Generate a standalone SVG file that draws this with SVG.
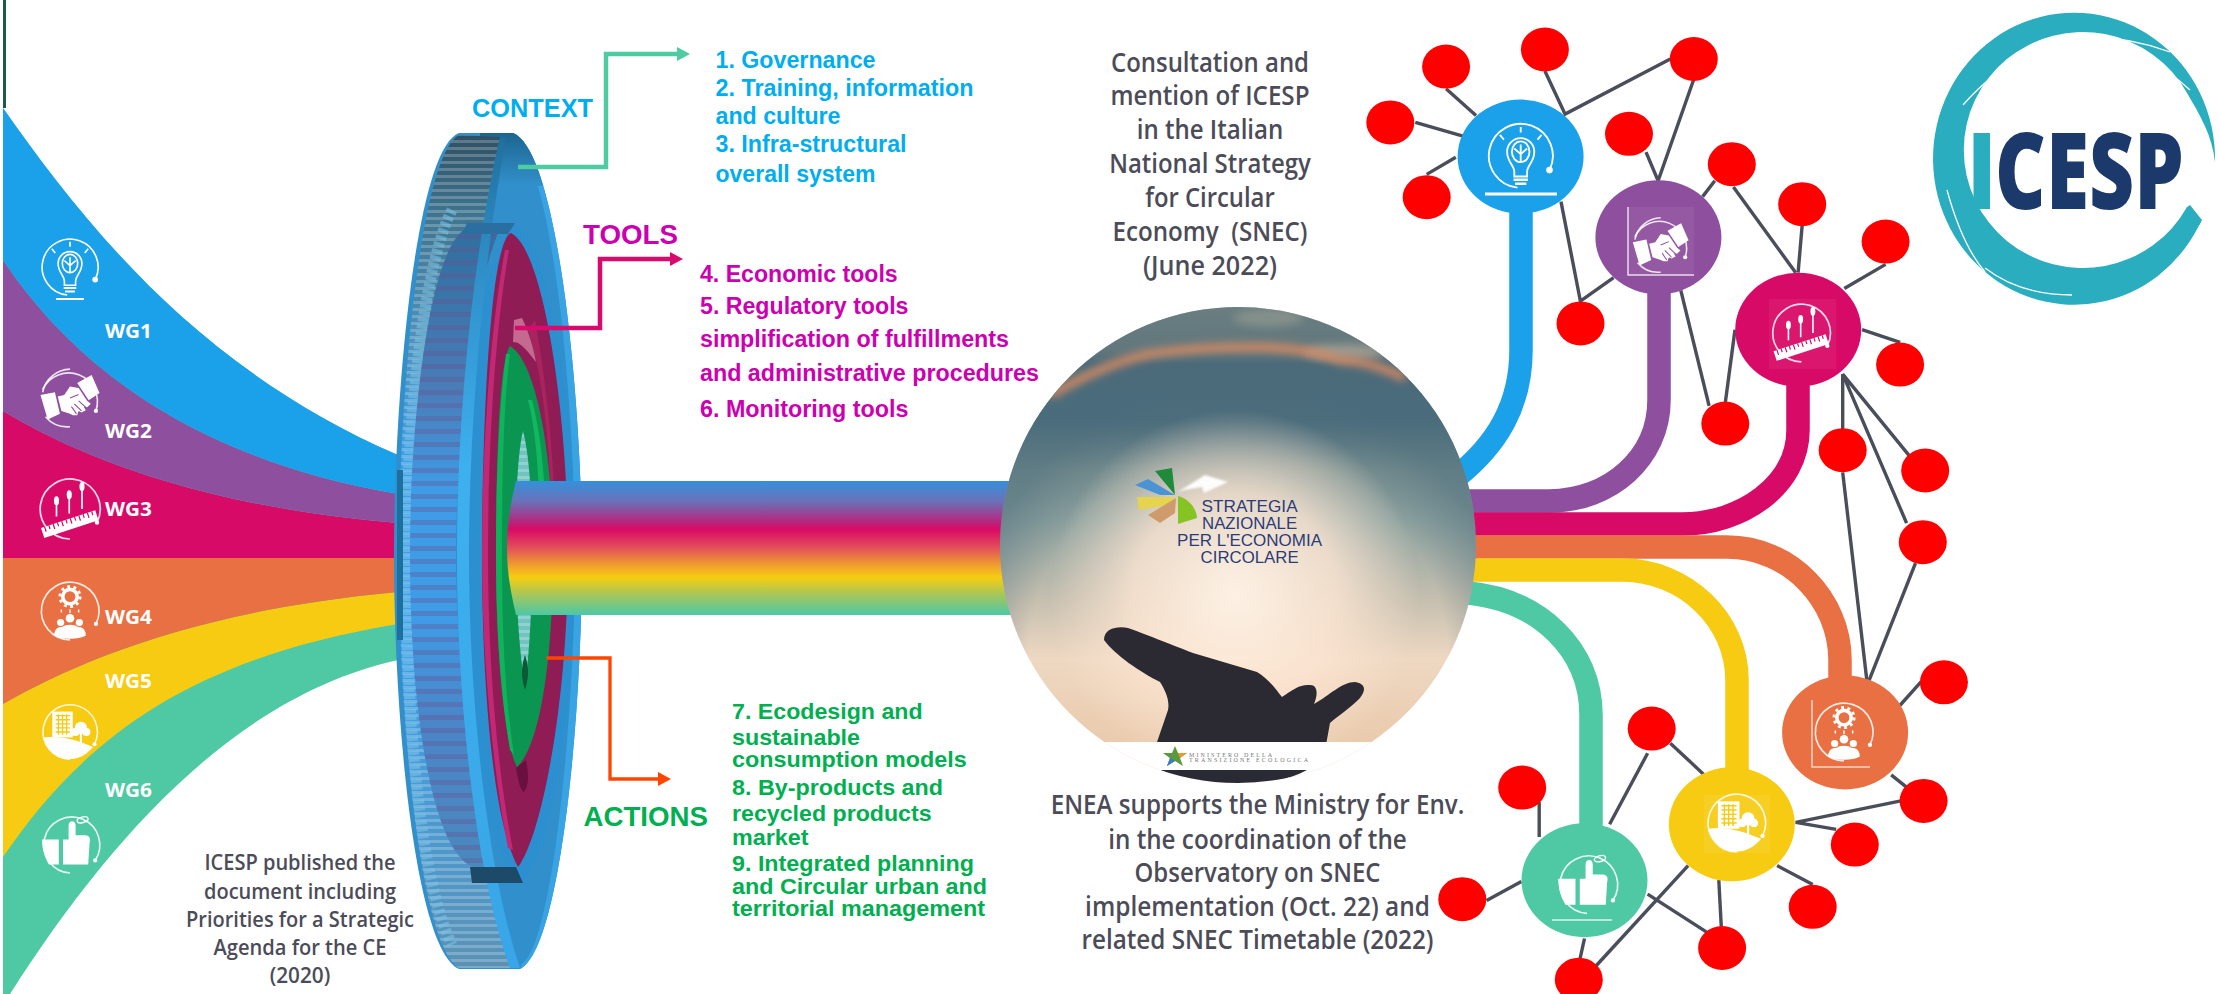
<svg xmlns="http://www.w3.org/2000/svg" width="2219" height="994" viewBox="0 0 2219 994">
<style>
.b{font-family:"Liberation Sans",Arial,sans-serif;font-weight:700}
.o{font-family:"Open Sans","Noto Sans",sans-serif;font-weight:600;fill:#4b4c58;text-anchor:middle}
.wg{font-family:"Open Sans","Noto Sans",sans-serif;font-weight:700;fill:#fff;font-size:20px}
.cb{fill:#00aeef;font-size:23px}.ct{fill:#cc00b0;font-size:23px}.cg{fill:#00b050;font-size:22.5px}
.thin{stroke:#4a4e5b;stroke-width:3.4;fill:none}
.thick{fill:none;stroke-width:23.500}
.dot{fill:#f00}
.lg{font-family:"Liberation Sans",Arial,sans-serif;fill:#2b3c78;font-size:16.5px;text-anchor:middle}
.big{font-family:"Open Sans","Noto Sans",sans-serif;font-weight:800;font-size:106px}
</style>
<defs>
<marker id="ag" markerUnits="userSpaceOnUse" markerWidth="14" markerHeight="14" refX="1" refY="7" orient="auto"><path d="M0 0L13 7L0 14Z" fill="#4ecba0"/></marker>
<marker id="ac" markerUnits="userSpaceOnUse" markerWidth="14" markerHeight="14" refX="1" refY="7" orient="auto"><path d="M0 0L13 7L0 14Z" fill="#d90a6e"/></marker>
<marker id="ao" markerUnits="userSpaceOnUse" markerWidth="14" markerHeight="14" refX="1" refY="7" orient="auto"><path d="M0 0L13 7L0 14Z" fill="#ff4500"/></marker>
<linearGradient id="rain" x1="0" y1="0" x2="0" y2="1"><stop offset="0" stop-color="#3590dc"/><stop offset=".15" stop-color="#6a72b8"/><stop offset=".3" stop-color="#b4287f"/><stop offset=".36" stop-color="#d90a66"/><stop offset=".5" stop-color="#e2505a"/><stop offset=".62" stop-color="#ef9a30"/><stop offset=".72" stop-color="#f6cd12"/><stop offset=".85" stop-color="#a5c65c"/><stop offset="1" stop-color="#4cc8a6"/></linearGradient>
<linearGradient id="rib" x1="0" y1="133" x2="0" y2="970" gradientUnits="userSpaceOnUse"><stop offset="0" stop-color="#2f4f63"/><stop offset=".1" stop-color="#3f7590"/><stop offset=".25" stop-color="#4f93bd"/><stop offset=".4" stop-color="#3b9fe8"/><stop offset=".6" stop-color="#3b9fe8"/><stop offset=".8" stop-color="#4a9ad4"/><stop offset="1" stop-color="#5a92b5"/></linearGradient>
<linearGradient id="step" x1="0" y1="228" x2="0" y2="882" gradientUnits="userSpaceOnUse"><stop offset="0" stop-color="#2f6f9e"/><stop offset=".25" stop-color="#4a7db8"/><stop offset=".4" stop-color="#3f9ce6"/><stop offset=".6" stop-color="#3f9ce6"/><stop offset=".75" stop-color="#4a86c8"/><stop offset="1" stop-color="#4a88bd"/></linearGradient>
<linearGradient id="strip" x1="0" y1="134" x2="0" y2="968" gradientUnits="userSpaceOnUse"><stop offset="0" stop-color="#1f6f9c"/><stop offset=".15" stop-color="#2f8dc6"/><stop offset=".4" stop-color="#3db0ee"/><stop offset="1" stop-color="#38a6e8"/></linearGradient>
<linearGradient id="rimtop" x1="0" y1="133" x2="0" y2="185" gradientUnits="userSpaceOnUse"><stop offset="0" stop-color="#1d6590"/><stop offset="1" stop-color="#3190cb"/></linearGradient>
<linearGradient id="sky" x1="0" y1="307" x2="0" y2="783" gradientUnits="userSpaceOnUse"><stop offset="0" stop-color="#8e9488"/><stop offset=".09" stop-color="#7d8580"/><stop offset=".12" stop-color="#4f6b7a"/><stop offset=".24" stop-color="#4f6f7d"/><stop offset=".34" stop-color="#7a9090"/><stop offset=".45" stop-color="#8fa3a0"/><stop offset=".62" stop-color="#c7c0b0"/><stop offset=".74" stop-color="#eed8c2"/><stop offset="1" stop-color="#e8c4a2"/></linearGradient>
<radialGradient id="vig" cx="1238" cy="660" r="300" gradientUnits="userSpaceOnUse"><stop offset=".7" stop-color="#46697a" stop-opacity="0"/><stop offset=".92" stop-color="#46697a" stop-opacity=".5"/></radialGradient>
<radialGradient id="glow" cx="1235" cy="595" r="185" gradientUnits="userSpaceOnUse"><stop offset="0" stop-color="#fff3e6" stop-opacity=".97"/><stop offset=".55" stop-color="#fde6d3" stop-opacity=".8"/><stop offset="1" stop-color="#fde6d3" stop-opacity="0"/></radialGradient>
<pattern id="ribs" patternUnits="userSpaceOnUse" width="10" height="7"><rect width="10" height="3" fill="#fff" opacity=".22"/></pattern>
<pattern id="ribd" patternUnits="userSpaceOnUse" width="10" height="13"><rect width="10" height="5" fill="#6a4f90" opacity=".35"/></pattern>
<filter id="bl" x="-20%" y="-100%" width="140%" height="300%"><feGaussianBlur stdDeviation="4"/></filter>
<filter id="bl2" x="-20%" y="-20%" width="140%" height="140%"><feGaussianBlur stdDeviation="1.2"/></filter>
<clipPath id="cc"><circle cx="1238" cy="545" r="238"/></clipPath>
<clipPath id="disc-clip"><path d="M459 133C415 150 394 400 394 555C394 720 415 950 459 969H520C560 950 582 720 582 555C582 400 558 150 513 133Z"/></clipPath>
<g id="ic-bulb" fill="none" stroke="#fff" stroke-width="2.3"><path d="M86 68A40 40 0 1 0 46 90"/><circle cx="86" cy="68" r="3" fill="#fff"/><path d="M42 76V70C42 62 33 58 33 45A17 17 0 0 1 67 45C67 58 58 62 58 70V76Z"/><ellipse cx="50" cy="45" rx="11" ry="13"/><path d="M50 58V36M50 48L42 41M50 48L58 41"/><path d="M41 80H59M43 85H57" stroke-width="3"/><path d="M50 14V21M24 24L29 30M76 24L71 30"/></g>
<g id="ic-hand"><path d="M86 68A40 40 0 0 0 12 38M16 76A40 40 0 0 0 50 90" fill="none" stroke="#fff" stroke-width="2.3" opacity=".85"/><path d="M50 10A40 40 0 0 0 12 42" fill="none" stroke="#fff" stroke-width="2.3" opacity=".85"/><circle cx="86" cy="68" r="3" fill="#fff"/><path d="M9 46L29 42L36 72L19 80Z" fill="#fff"/><path d="M60 29L80 18L91 43L76 53Z" fill="#fff"/><path d="M33 48L42 46L50 34L62 36L74 54L79 58L74 63L69 62L72 67L66 70L62 68L60 74L54 74L50 72L38 68Z" fill="#fff"/><path d="M50 50L62 45M56 58L66 68M52 62L59 72M62 54L72 63" stroke="#8f4f9f" stroke-width="1.5" fill="none"/></g>
<g id="ic-rule"><path d="M86 68A40 40 0 1 0 50 90" fill="none" stroke="#fff" stroke-width="2.3" opacity=".85"/><circle cx="86" cy="68" r="3" fill="#fff"/><g transform="rotate(-18 50 68)"><rect x="11" y="63" width="76" height="14" fill="#fff"/><path d="M16 63V70M22 63V68M28 63V70M34 63V68M40 63V70M46 63V68M52 63V70M58 63V68M64 63V70M70 63V68M76 63V70M82 63V68" stroke="#c80a62" stroke-width="1.6"/></g><path d="M32 60V42M49 56V34M66 50V24" stroke="#fff" stroke-width="2.2"/><ellipse cx="32" cy="39" rx="3.4" ry="6" fill="#fff"/><ellipse cx="49" cy="31" rx="3.4" ry="6" fill="#fff"/><ellipse cx="66" cy="20" rx="3.4" ry="6" fill="#fff"/></g>
<g id="ic-gear"><path d="M86 68A40 40 0 1 0 50 90" fill="none" stroke="#fff" stroke-width="2.3" opacity=".85"/><circle cx="86" cy="68" r="3" fill="#fff"/><circle cx="50" cy="30" r="10" fill="none" stroke="#fff" stroke-width="5"/><circle cx="50" cy="30" r="14" fill="none" stroke="#fff" stroke-width="4" stroke-dasharray="4 4.8"/><path d="M38 48V52M50 48V53M62 48V52" stroke="#fff" stroke-width="2"/><circle cx="50" cy="60" r="6" fill="#fff"/><circle cx="37" cy="66" r="5" fill="#fff"/><circle cx="63" cy="66" r="5" fill="#fff"/><path d="M28 84C28 72 38 72 40 72C42 68 58 68 60 72C62 72 72 72 72 84C62 90 38 90 28 84Z" fill="#fff"/></g>
<g id="ic-build"><path d="M86 68A40 40 0 1 0 50 90" fill="none" stroke="#fff" stroke-width="2.3" opacity=".85"/><circle cx="86" cy="68" r="3" fill="#fff"/><rect x="24" y="20" width="30" height="38" fill="#fff"/><path d="M29 26H50M29 32H50M29 38H50M29 44H50M29 50H50M33 24V54M39 24V54M45 24V54" stroke="#f7cb12" stroke-width="2"/><path d="M11 58C40 55 60 62 84 72C74 84 62 90 48 90C30 90 16 76 11 58Z" fill="#fff"/><circle cx="66" cy="44" r="9" fill="#fff"/><circle cx="58" cy="50" r="6" fill="#fff"/><circle cx="74" cy="50" r="6" fill="#fff"/><path d="M66 50V68" stroke="#fff" stroke-width="3"/></g>
<g id="ic-thumb"><path d="M86 72A40 40 0 1 0 50 90" fill="none" stroke="#fff" stroke-width="2.3" opacity=".85"/><circle cx="86" cy="72" r="3" fill="#fff"/><path d="M10 42H34V78H20C14 68 10 55 10 42Z" fill="#fff"/><path d="M40 42H48V22C48 14 58 14 58 22V36H72C78 36 80 42 78 46L76 78H40Z" fill="#fff"/><ellipse cx="68" cy="14" rx="8" ry="4" fill="none" stroke="#fff" stroke-width="2" transform="rotate(-15 68 14)"/></g>
</defs>
<rect width="2219" height="994" fill="#fff"/>
<rect x="3" y="0" width="3" height="108" fill="#1e5a46"/>

<g id="bands">
<path d="M3 108C85 225 200 370 398 455V660C240 695 115 830 10 994H3Z" fill="#4fc9a4"/>
<path d="M3 704C80 660 200 610 398 592V624C180 660 80 745 3 857Z" fill="#f7cb12"/>
<path d="M3 558H398V592C200 610 80 660 3 704Z" fill="#e97043"/>
<path d="M3 411C60 445 180 505 398 523V558H3Z" fill="#d80a68"/>
<path d="M3 260C60 345 170 455 398 494V523C180 505 60 445 3 411Z" fill="#8f4f9f"/>
<path d="M3 108C85 225 200 370 398 455V494C170 455 60 345 3 260Z" fill="#1ba1e9"/>
</g>
<g id="wg-icons">
<use href="#ic-bulb" transform="translate(35 232) scale(.7)"/>
<path d="M56 299H84" stroke="#fff" stroke-width="2"/>
<use href="#ic-hand" transform="translate(34 362) scale(.72)"/>
<use href="#ic-rule" transform="translate(32.500 471.500) scale(.75)"/>
<use href="#ic-gear" transform="translate(34 575) scale(.72)"/>
<use href="#ic-build" transform="translate(36 698) scale(.68)"/>
<use href="#ic-thumb" transform="translate(35 810) scale(.7)"/>
</g>
<g id="wg-labels">
<text class="wg" x="105" y="338" textLength="47" lengthAdjust="spacingAndGlyphs">WG1</text>
<text class="wg" x="105" y="437.500" textLength="47" lengthAdjust="spacingAndGlyphs">WG2</text>
<text class="wg" x="105" y="516" textLength="47" lengthAdjust="spacingAndGlyphs">WG3</text>
<text class="wg" x="105" y="624" textLength="47" lengthAdjust="spacingAndGlyphs">WG4</text>
<text class="wg" x="105" y="688" textLength="47" lengthAdjust="spacingAndGlyphs">WG5</text>
<text class="wg" x="105" y="797" textLength="47" lengthAdjust="spacingAndGlyphs">WG6</text>
</g>

<g id="disc">
<path d="M459 133C415 150 394 400 394 555C394 720 415 950 459 969H520C560 950 582 720 582 555C582 400 558 150 513 133Z" fill="#3190cb"/>
<path d="M513 133C558 150 582 400 582 555C582 720 560 950 520 969L522 964C552 945 575 720 575 555C575 400 552 160 513 137Z" fill="#38a4e4"/>
<rect x="480" y="130" width="90" height="56" fill="url(#rimtop)" clip-path="url(#disc-clip)"/>
<path d="M459 135C420 155 399 400 399 555C399 720 420 945 459 968H512C475 870 457 700 457 555C457 430 470 270 500 137Z" fill="url(#rib)"/>
<path d="M459 135C420 155 399 400 399 555C399 720 420 945 459 968H512C475 870 457 700 457 555C457 430 470 270 500 137Z" fill="url(#ribs)"/>
<path d="M452 210C425 260 406 420 406 555C406 720 420 880 452 945" fill="none" stroke="#7cc4e8" stroke-width="11" stroke-dasharray="4 3" opacity=".55"/>
<path d="M468 228C430 240 410 420 410 555C410 700 430 850 473 867H487C470 790 458 690 458 555C458 420 470 300 500 228Z" fill="url(#step)"/>
<path d="M468 228C430 240 410 420 410 555C410 700 430 850 473 867H487C470 790 458 690 458 555C458 420 470 300 500 228Z" fill="url(#ribd)"/>
<path d="M397 470H403V640H397Z" fill="#1d6f9e"/>
<path d="M516 225C484 240 456 420 456 555C456 700 484 850 520 882C552 860 575 700 575 555C575 420 552 250 516 225Z" fill="#2c8fd0"/>
<path d="M500 137C470 270 457 430 457 555C457 700 475 870 510 968L520 968C487 870 469 700 469 555C469 430 482 270 506 138Z" fill="url(#strip)"/>
<path d="M467 223H515L508 234H462Z" fill="#2a6f9f"/>
<path d="M470 867H516L523 883H472Z" fill="#1d4a68"/>
<path d="M511 233C490 240 482 430 482 555C482 680 492 820 518 867C542 835 568 700 568 555C568 420 545 250 511 233Z" fill="#8f1c55"/>
<path d="M482 555C482 450 490 330 505 250L509 250C495 330 488 450 488 555C488 660 497 770 513 850L508 848C493 770 482 660 482 555Z" fill="#c22873"/>
<path d="M535 320C548 390 556 480 556 555L553 555C552 470 545 380 528 330Z" fill="#a8245f"/>
<path d="M516 768C518 780 520 790 524 792C529 785 529 775 526 760Z" fill="#6a1040"/>
<path d="M514 320L522 318C530 335 534 350 536 362L528 352C522 345 518 342 513 342Z" fill="#c46a90"/>
<path d="M510 346C500 360 496 450 496 555C496 660 505 745 517 767C540 745 553 660 553 555C553 450 535 360 510 346Z" fill="#0a9650"/>
<path d="M496 555C496 470 500 400 506 354L510 354C504 400 502 470 502 555C502 640 506 700 514 755L510 750C502 700 496 640 496 555Z" fill="#0fb35c"/>
<path d="M532 400C542 440 546 480 546 555L539 555C540 490 538 440 528 400Z" fill="#12b860"/>
<path d="M523 431C513 470 513 620 525 685C534 620 536 480 523 431Z" fill="#72c4c2"/>
<path d="M523 431C513 470 513 620 525 685C534 620 536 480 523 431Z" fill="url(#ribs)"/>
<path d="M525 655C520 670 522 680 525 690C528 680 530 670 525 655Z" fill="#0b5a36"/>
</g>
<path id="pipe" d="M516 481H1030V615H516C510 590 507 570 507 548C507 525 510 505 516 481Z" fill="url(#rain)"/>

<g id="connectors">
<path class="thick" stroke="#1ba1e9" d="M1521 200V350C1521 405 1497 445 1455 478"/>
<path class="thick" stroke="#8f4f9f" d="M1659 280V400C1659 458 1610 501 1549 501H1460"/>
<path class="thick" stroke="#d80a68" d="M1798 370V430C1798 485 1742 524 1682 524H1465"/>
<path class="thick" stroke="#e97043" d="M1465 547H1727C1790 547 1840 600 1840 660V720"/>
<path class="thick" stroke="#f7cb12" d="M1465 570H1622C1685 570 1737 620 1737 680V790"/>
<path class="thick" stroke="#4fc9a4" d="M1468 593C1540 600 1591 650 1591 715V850"/>
<g id="spokes" class="thin">
<path d="M1446.100 88.800L1476 115.400"/><path d="M1544.900 71L1565.100 114.100L1670.300 59"/><path d="M1415.300 122.400L1463.900 136.300"/><path d="M1426.700 174.400L1455.800 157.300"/><path d="M1693.800 79.300L1658.100 180.700L1646 152.200"/><path d="M1561 201.600L1580.400 301.200L1613.600 277.700"/><path d="M1714.800 180.700L1702.600 196.600"/><path d="M1733.400 187L1795.700 272.700"/><path d="M1802.200 225L1798.100 272.700"/><path d="M1885.600 264.400L1844.300 288.500"/><path d="M1862 329.700L1900.100 342.400"/><path d="M1680.800 290.400L1709.100 405.800"/><path d="M1725.300 402.700L1735 329.700"/><path d="M1842.700 374.100V431.200"/><path d="M1842.700 472.400L1867 681.700"/><path d="M1909 455.300L1842.700 374.100L1906.600 523.100"/><path d="M1915.500 563.100L1868.600 681.700"/><path d="M1898.500 707L1921.200 681.700"/><path d="M1891.200 774.900L1923.600 800.900"/><path d="M1900.900 800.900L1795.700 822.400L1836.200 829.400"/><path d="M1777.100 865.600L1812.700 884.600"/><path d="M1718.800 880.100L1721.300 927.100"/><path d="M1688.100 865.600L1595 967"/><path d="M1647.600 894.100L1706.700 932.100"/><path d="M1584.500 938.500L1579.600 960.700"/><path d="M1521.400 881.400L1486.600 900.400"/><path d="M1539.200 802.100V837"/><path d="M1647.600 753.300L1609.600 824.300"/><path d="M1670.300 743.200L1704.300 774.900"/>
</g>
<path d="M518 167H606V54H678" fill="none" stroke="#4ecba0" stroke-width="4.500" marker-end="url(#ag)"/>
<path d="M515 328H600V259H671" fill="none" stroke="#d90a6e" stroke-width="4.500" marker-end="url(#ac)"/>
<path d="M546.500 658H610V779H659" fill="none" stroke="#ff4500" stroke-width="3.300" marker-end="url(#ao)"/>
</g>

<g id="sphere">
<g clip-path="url(#cc)">
<rect x="998" y="305" width="480" height="480" fill="url(#sky)"/>
<rect x="998" y="305" width="480" height="480" fill="url(#vig)"/>
<rect x="998" y="305" width="480" height="480" fill="url(#glow)"/>
<ellipse cx="1268" cy="318" rx="35" ry="9" fill="#a8a898" opacity=".45" filter="url(#bl)"/>
<ellipse cx="1345" cy="352" rx="42" ry="8" fill="#c8b8a0" opacity=".55" filter="url(#bl)"/>
<path d="M1050 395C1090 372 1120 360 1150 354C1190 348 1225 347 1257 347C1290 348 1315 351 1340 360C1365 361 1385 368 1405 378" fill="none" stroke="#d88a62" stroke-width="8" filter="url(#bl)"/>
<path d="M1104 640C1104 628 1118 626 1128 628C1150 636 1193 653 1193 653L1257 672C1270 680 1276 690 1282 697C1292 690 1300 684 1310 685C1318 685 1318 695 1314 704C1330 695 1342 682 1355 682C1366 684 1366 690 1360 698C1350 708 1338 716 1330 723L1326 745H1156L1168 710C1170 700 1165 690 1160 682C1140 672 1115 655 1104 640Z" fill="#2b2a33"/>
<rect x="998" y="742" width="480" height="48" fill="#fff"/>
<path d="M1160 770H1307C1270 790 1200 790 1160 770Z" fill="#2a2a35"/>
</g>
<g id="snec-logo">
<path d="M1155 471L1172 468L1175 495Z" fill="#1f8a3c"/>
<path d="M1135 485L1148 479L1175 495L1160 495Z" fill="#4a94d6"/>
<path d="M1137 497H1175L1168 505L1139 510Z" fill="#e6d34e"/>
<path d="M1148 515L1176 498L1175 513L1160 523Z" fill="#cf9b6d"/>
<path d="M1178 496C1192 500 1197 512 1197 518L1178 524Z" fill="#86c424"/>
<path d="M1178 492L1205 475L1228 482L1204 493L1202 487L1185 490Z" fill="#fdfdfb" filter="url(#bl2)"/>
<text class="lg" x="1249.600" y="511.500" textLength="96" lengthAdjust="spacingAndGlyphs">STRATEGIA</text>
<text class="lg" x="1249.600" y="528.700" textLength="95" lengthAdjust="spacingAndGlyphs">NAZIONALE</text>
<text class="lg" x="1249.600" y="545.700" textLength="145" lengthAdjust="spacingAndGlyphs">PER L'ECONOMIA</text>
<text class="lg" x="1249.600" y="563.300" textLength="98" lengthAdjust="spacingAndGlyphs">CIRCOLARE</text>
</g>
<g id="mite-logo">
<path d="M1175 746L1178 753L1187 753L1180 758L1183 766L1175 761L1167 766L1170 758L1163 753L1172 753Z" fill="#5a9a3c"/>
<path d="M1175 746L1178 753L1187 753L1180 758Z" fill="#e89a30"/>
<path d="M1175 761L1167 766L1170 758L1163 753Z" fill="#3a7ac8"/>
<text x="1189" y="756.500" font-family="Liberation Serif,serif" font-size="6" fill="#777" textLength="83">MINISTERO DELLA</text>
<text x="1189" y="761.500" font-family="Liberation Serif,serif" font-size="6" fill="#777" textLength="119">TRANSIZIONE ECOLOGICA</text>
</g>
</g>

<g id="nodes">
<g id="n1"><ellipse cx="1520.600" cy="156.600" rx="63" ry="57" fill="#1ba1e9"/><use href="#ic-bulb" transform="translate(1480.700 115.700) scale(.8)"/><path d="M1485 194H1557" stroke="#fff" stroke-width="3"/></g>
<g id="n2"><ellipse cx="1658.400" cy="237.300" rx="63" ry="57" fill="#8f4f9f"/><rect x="1628" y="207" width="66" height="68" fill="#fff" opacity=".06"/><path d="M1628 207V275H1694" fill="none" stroke="#fff" stroke-width="1.500" opacity=".8"/><use href="#ic-hand" transform="translate(1626.700 211) scale(.68)"/></g>
<g id="n3"><ellipse cx="1798.200" cy="329.700" rx="63" ry="57" fill="#d80a68"/><rect x="1769" y="299" width="67" height="70" fill="#fff" opacity=".05"/><use href="#ic-rule" transform="translate(1765.400 297) scale(.72)"/></g>
<g id="n4"><ellipse cx="1845.100" cy="732.400" rx="63" ry="57" fill="#e97043"/><path d="M1812 700V767H1870" fill="none" stroke="#fff" stroke-width="1.500" opacity=".7"/><use href="#ic-gear" transform="translate(1808 696) scale(.72)"/></g>
<g id="n5"><ellipse cx="1731.800" cy="824.300" rx="63" ry="57" fill="#f7cb12"/><rect x="1704" y="795" width="66" height="58" fill="#fff" opacity=".07"/><use href="#ic-build" transform="translate(1700.600 787) scale(.72)"/></g>
<g id="n6"><ellipse cx="1584.500" cy="880.200" rx="63" ry="57" fill="#4fc9a4"/><use href="#ic-thumb" transform="translate(1551 848.600) scale(.72)"/><path d="M1552 920H1612" stroke="#fff" stroke-width="1.500" opacity=".8"/></g>
</g>
<g id="dots">
<ellipse class="dot" cx="1446.100" cy="66.600" rx="24" ry="22"/><ellipse class="dot" cx="1544.900" cy="49.500" rx="24" ry="22"/><ellipse class="dot" cx="1693.800" cy="59" rx="24" ry="22"/><ellipse class="dot" cx="1390.300" cy="122.400" rx="24" ry="22"/><ellipse class="dot" cx="1426.700" cy="197.200" rx="24" ry="22"/><ellipse class="dot" cx="1629" cy="133.800" rx="24" ry="22"/><ellipse class="dot" cx="1731.800" cy="164.200" rx="24" ry="22"/><ellipse class="dot" cx="1802.200" cy="204.200" rx="24" ry="22"/><ellipse class="dot" cx="1885.600" cy="241.600" rx="24" ry="22"/><ellipse class="dot" cx="1900.100" cy="364.600" rx="24" ry="22"/><ellipse class="dot" cx="1580.500" cy="323.400" rx="24" ry="22"/><ellipse class="dot" cx="1725.300" cy="423.600" rx="24" ry="22"/><ellipse class="dot" cx="1842.700" cy="450.200" rx="24" ry="22"/><ellipse class="dot" cx="1925.200" cy="470.500" rx="24" ry="22"/><ellipse class="dot" cx="1922.800" cy="542.200" rx="24" ry="22"/><ellipse class="dot" cx="1943.900" cy="682.300" rx="24" ry="22"/><ellipse class="dot" cx="1923.600" cy="800.900" rx="24" ry="22"/><ellipse class="dot" cx="1854.800" cy="844.600" rx="24" ry="22"/><ellipse class="dot" cx="1812.700" cy="906.800" rx="24" ry="22"/><ellipse class="dot" cx="1722.100" cy="948" rx="24" ry="22"/><ellipse class="dot" cx="1578.800" cy="979.700" rx="24" ry="22"/><ellipse class="dot" cx="1462.300" cy="899.200" rx="24" ry="22"/><ellipse class="dot" cx="1522.200" cy="787.600" rx="24" ry="22"/><ellipse class="dot" cx="1651.700" cy="728.600" rx="24" ry="22"/>
</g>

<g id="labels">
<text class="b" x="472" y="116.700" font-size="25.300" fill="#00aeef" textLength="121" lengthAdjust="spacingAndGlyphs">CONTEXT</text>
<text class="b" x="583" y="243.500" font-size="27.600" fill="#cc00b0" textLength="95" lengthAdjust="spacingAndGlyphs">TOOLS</text>
<text class="b" x="583.500" y="826" font-size="27.600" fill="#00b050" textLength="124.500" lengthAdjust="spacingAndGlyphs">ACTIONS</text>
<text class="b cb" x="715.500" y="67.800" textLength="160" lengthAdjust="spacingAndGlyphs">1. Governance</text>
<text class="b cb" x="715.500" y="96.400" textLength="258" lengthAdjust="spacingAndGlyphs">2. Training, information</text>
<text class="b cb" x="715.500" y="124.300" textLength="125" lengthAdjust="spacingAndGlyphs">and culture</text>
<text class="b cb" x="715.500" y="152.200" textLength="191" lengthAdjust="spacingAndGlyphs">3. Infra-structural</text>
<text class="b cb" x="715.500" y="182" textLength="160" lengthAdjust="spacingAndGlyphs">overall system</text>
<text class="b ct" x="700" y="282" textLength="197.700" lengthAdjust="spacingAndGlyphs">4. Economic tools</text>
<text class="b ct" x="700" y="314" textLength="208.500" lengthAdjust="spacingAndGlyphs">5. Regulatory tools</text>
<text class="b ct" x="700" y="347" textLength="309" lengthAdjust="spacingAndGlyphs">simplification of fulfillments</text>
<text class="b ct" x="700" y="380.500" textLength="339" lengthAdjust="spacingAndGlyphs">and administrative procedures</text>
<text class="b ct" x="700" y="416.600" textLength="208.500" lengthAdjust="spacingAndGlyphs">6. Monitoring tools</text>
<text class="b cg" x="732" y="718.500" textLength="190.700" lengthAdjust="spacingAndGlyphs">7. Ecodesign and</text>
<text class="b cg" x="732" y="745" textLength="128" lengthAdjust="spacingAndGlyphs">sustainable</text>
<text class="b cg" x="732" y="767" textLength="234.700" lengthAdjust="spacingAndGlyphs">consumption models</text>
<text class="b cg" x="732" y="795" textLength="211" lengthAdjust="spacingAndGlyphs">8. By-products and</text>
<text class="b cg" x="732" y="821" textLength="199.600" lengthAdjust="spacingAndGlyphs">recycled products</text>
<text class="b cg" x="732" y="845" textLength="76.500" lengthAdjust="spacingAndGlyphs">market</text>
<text class="b cg" x="732" y="871" textLength="242" lengthAdjust="spacingAndGlyphs">9. Integrated planning</text>
<text class="b cg" x="732" y="894" textLength="255" lengthAdjust="spacingAndGlyphs">and Circular urban and</text>
<text class="b cg" x="732" y="916" textLength="253" lengthAdjust="spacingAndGlyphs">territorial management</text>
<g font-size="21">
<text class="o" x="300" y="870" textLength="191" lengthAdjust="spacingAndGlyphs">ICESP published the</text>
<text class="o" x="300" y="899" textLength="192" lengthAdjust="spacingAndGlyphs">document including</text>
<text class="o" x="300" y="927" textLength="228" lengthAdjust="spacingAndGlyphs">Priorities for a Strategic</text>
<text class="o" x="300" y="955" textLength="173" lengthAdjust="spacingAndGlyphs">Agenda for the CE</text>
<text class="o" x="300" y="983" textLength="60.600" lengthAdjust="spacingAndGlyphs">(2020)</text>
</g>
<g font-size="27">
<text class="o" x="1210" y="71.600" textLength="198" lengthAdjust="spacingAndGlyphs">Consultation and</text>
<text class="o" x="1210" y="104.600" textLength="199" lengthAdjust="spacingAndGlyphs">mention of ICESP</text>
<text class="o" x="1210" y="139" textLength="146.500" lengthAdjust="spacingAndGlyphs">in the Italian</text>
<text class="o" x="1210" y="173" textLength="201.500" lengthAdjust="spacingAndGlyphs">National Strategy</text>
<text class="o" x="1210" y="207" textLength="129.500" lengthAdjust="spacingAndGlyphs">for Circular</text>
<text class="o" x="1210" y="241" textLength="195" lengthAdjust="spacingAndGlyphs" xml:space="preserve">Economy  (SNEC)</text>
<text class="o" x="1210" y="274.600" textLength="134" lengthAdjust="spacingAndGlyphs">(June 2022)</text>
<text class="o" x="1257.500" y="814" textLength="413.600" lengthAdjust="spacingAndGlyphs">ENEA supports the Ministry for Env.</text>
<text class="o" x="1257.500" y="848.500" textLength="298.600" lengthAdjust="spacingAndGlyphs">in the coordination of the</text>
<text class="o" x="1257.500" y="882" textLength="246" lengthAdjust="spacingAndGlyphs">Observatory on SNEC</text>
<text class="o" x="1257.500" y="915.700" textLength="344.800" lengthAdjust="spacingAndGlyphs">implementation (Oct. 22) and</text>
<text class="o" x="1257.500" y="949" textLength="352" lengthAdjust="spacingAndGlyphs">related SNEC Timetable (2022)</text>
</g>
</g>

<g id="icesp-logo">
<path d="M2215 162A141 146 0 1 0 2202 220L2190 205L2187 207A119 118 0 1 1 2187 93C2200 115 2212 135 2215 162Z" fill="#2aaebf" fill-rule="evenodd"/>
<path d="M1963 105Q2010 50 2085 36M2000 78Q2050 47 2110 46M2050 40Q2110 30 2170 52M2090 48Q2150 52 2190 90M1947 190Q1962 245 1985 272M1985 268Q2020 295 2072 295M2160 275Q2185 255 2200 225" fill="none" stroke="#fff" stroke-width="1.300"/>
<text class="big" fill="#2aaebf" transform="translate(1967 209) scale(.8 1)">I</text>
<text class="big" fill="#1b3a6b" transform="translate(1995 209) scale(.74 1)">CESP</text>
</g>
</svg>
